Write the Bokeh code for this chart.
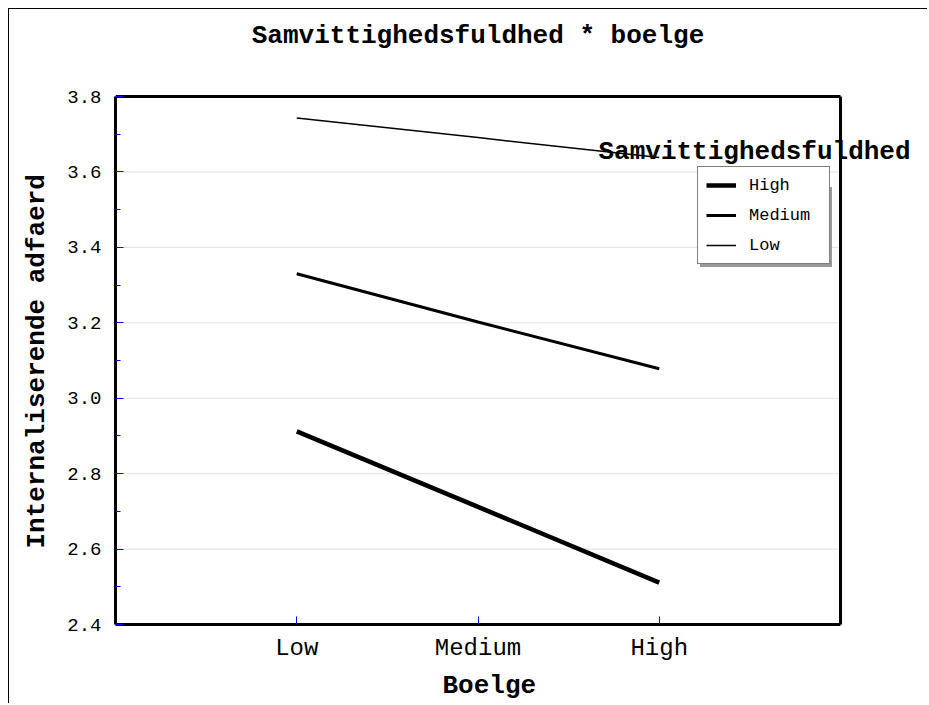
from bokeh.plotting import figure
from bokeh.models import (Legend, LegendItem, Label, FixedTicker, Range1d,
                          PrintfTickFormatter, Title)
from bokeh.core.properties import value
from bokeh.embed import file_html
from bokeh.resources import INLINE

# ---- data ----
categories = ["Low", "Medium", "High"]          # Boelge levels (x axis)
series_names = ["High", "Medium", "Low"]        # Samvittighedsfuldhed groups
high_vals = [2.912, 2.712, 2.511]
medium_vals = [3.330, 3.202, 3.078]
low_vals = [3.743, 3.691, 3.638]
y_ticks = [2.4, 2.6, 2.8, 3.0, 3.2, 3.4, 3.6, 3.8]
y_minor_ticks = [2.5, 2.7, 2.9, 3.1, 3.3, 3.5, 3.7]

title_text = "Samvittighedsfuldhed * boelge"
x_label = "Boelge"
y_label = "Internaliserende adfaerd"
legend_title = "Samvittighedsfuldhed"

x_pos = [i + 1 for i in range(len(categories))]

MONO = "Liberation Mono"

# ---- layout constants (pixels) ----
BOX_W_PX, BOX_H_PX = 725, 528        # visible boxed plot area
EXTRA_W_PX, EXTRA_H_PX = 88, 87      # drawing area extends right / above the box
BOX_LO, BOX_HI = 0, len(categories) + 1
Y_LO, Y_HI = y_ticks[0], y_ticks[-1]
PX_X = (BOX_HI - BOX_LO) / BOX_W_PX
PX_Y = (Y_HI - Y_LO) / BOX_H_PX
X_END = BOX_HI + EXTRA_W_PX * PX_X
Y_END = Y_HI + EXTRA_H_PX * PX_Y

p = figure(width=919, height=695, output_backend="svg", toolbar_location=None,
           x_range=Range1d(BOX_LO, X_END), y_range=Range1d(Y_LO, Y_END),
           min_border_left=106, min_border_right=0, min_border_top=0, min_border_bottom=80)
p.margin = (8, 0, 0, 8)
p.styles = {"border-left": "1px solid black", "border-top": "1px solid black"}
p.background_fill_color = "white"
p.border_fill_color = "white"
p.outline_line_color = None

# axes
xa = p.xaxis[0]
xa.ticker = FixedTicker(ticks=x_pos)
xa.major_label_overrides = {x: c for x, c in zip(x_pos, categories)}
xa.bounds = (BOX_LO, BOX_HI)
ya = p.yaxis[0]
ya.ticker = FixedTicker(ticks=y_ticks, minor_ticks=y_minor_ticks)
ya.formatter = PrintfTickFormatter(format="%.1f")
ya.bounds = (Y_LO, Y_HI)

for ax in (xa, ya):
    ax.axis_line_color = "black"
    ax.axis_line_width = 3
    ax.major_tick_in = 8
    ax.major_tick_out = 0
    ax.major_tick_line_color = "#0000ff"
    ax.major_tick_line_width = 1
    ax.minor_tick_in = 5
    ax.minor_tick_out = 0
    ax.minor_tick_line_color = "#0000ff"
    ax.minor_tick_line_width = 1
    ax.major_label_text_font = MONO
    ax.major_label_text_color = "black"

xa.minor_tick_line_color = None
xa.major_label_text_font_size = "24px"
ya.major_label_text_font_size = "19px"
xa.major_label_standoff = 10
ya.major_label_standoff = 14

# axis titles as side-panel titles (positioned like the reference)
x_title = Title(text=x_label, align="left", offset=327, standoff=8,
                text_font=MONO, text_font_style="bold", text_font_size="26px",
                text_color="black")
p.add_layout(x_title, "below")
y_title = Title(text=y_label, align="left", offset=76, standoff=22,
                text_font=MONO, text_font_style="bold", text_font_size="26px",
                text_color="black", vertical_align="top")
p.add_layout(y_title, "left")

# horizontal grid lines only inside the box
p.xgrid.grid_line_color = None
p.ygrid.grid_line_color = None
inner = y_ticks[1:-1]
p.segment(x0=[BOX_LO] * len(inner), y0=inner, x1=[BOX_HI] * len(inner), y1=inner,
          line_color="#e0e0e0", line_width=1, level="underlay")

# top and right edges of the box
p.segment(x0=[BOX_LO], y0=[Y_HI], x1=[BOX_HI], y1=[Y_HI],
          line_color="black", line_width=3)
p.segment(x0=[BOX_HI], y0=[Y_LO], x1=[BOX_HI], y1=[Y_HI],
          line_color="black", line_width=3, level="overlay")

r_high = p.line(x_pos, high_vals, line_color="black", line_width=4.5)
r_med = p.line(x_pos, medium_vals, line_color="black", line_width=3)
r_low = p.line(x_pos, low_vals, line_color="black", line_width=1.5)
renderers = [r_high, r_med, r_low]


def make_legend(loc, shadow=False):
    items = [LegendItem(label=value("") if shadow else name, renderers=[r])
             for name, r in zip(series_names, renderers)]
    lg = Legend(items=items, location=loc)
    lg.border_line_color = None if shadow else "black"
    lg.border_line_width = 1
    lg.background_fill_color = "#9a9a9a" if shadow else "white"
    lg.background_fill_alpha = 1
    lg.label_text_font = MONO
    lg.label_text_font_size = "17px"
    lg.label_text_color = "black"
    lg.glyph_width = 47 if shadow else 30
    lg.glyph_height = 20
    lg.label_height = 20
    lg.label_width = 72
    lg.spacing = 10
    lg.padding = 8
    lg.label_standoff = 13
    lg.margin = 0
    return lg


p.add_layout(make_legend((585, 357), shadow=True), "center")
p.add_layout(make_legend((582, 360)), "center")

# main title (inside the extended drawing area, above the box)
p.add_layout(Label(x=(BOX_LO + BOX_HI) / 2, y=Y_HI + 61 * PX_Y, text=title_text,
                   text_font=MONO, text_font_style="bold", text_font_size="26px",
                   text_color="black", text_align="center", text_baseline="alphabetic"))

# legend title, placed above the legend box as in the reference
p.add_layout(Label(x=BOX_LO + 483 * PX_X, y=Y_HI - 55 * PX_Y, text=legend_title,
                   text_font=MONO, text_font_style="bold", text_font_size="26px",
                   text_color="black", text_baseline="alphabetic"))

open("out.html", "w").write(file_html(p, INLINE))
